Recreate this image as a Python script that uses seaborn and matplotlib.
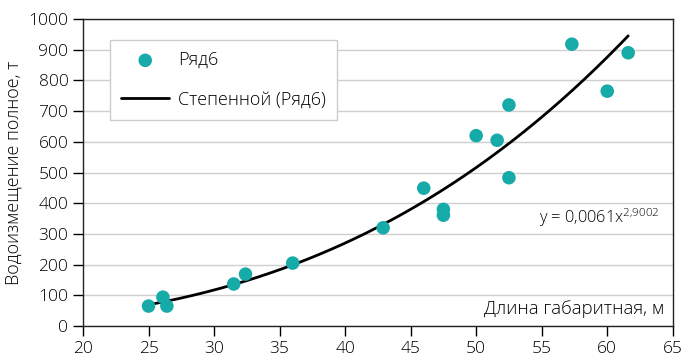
import numpy as np
import pandas as pd
import matplotlib
matplotlib.use("Agg")
import matplotlib.pyplot as plt
import seaborn as sns

# Data
length_m = [25.0, 26.1, 26.4, 31.5, 32.4, 36.0, 42.9, 46.0, 47.5, 47.5,
            50.0, 51.6, 52.5, 52.5, 57.3, 60.0, 61.6]
displacement_t = [65, 94, 65, 137, 169, 205, 320, 449, 380, 361,
                  620, 605, 720, 483, 918, 765, 890]
series_name = "Ряд6"
trend_name = "Степенной (Ряд6)"
trend_a = 0.0061
trend_b = 2.9002
x_ticks = [20, 25, 30, 35, 40, 45, 50, 55, 60, 65]
y_ticks = [0, 100, 200, 300, 400, 500, 600, 700, 800, 900, 1000]

sns.set_theme(style="white")
plt.rcParams['font.family'] = ['Open Sans', 'DejaVu Sans']
plt.rcParams['font.weight'] = 'light'
plt.rcParams['mathtext.fontset'] = 'custom'
plt.rcParams['mathtext.rm'] = 'Open Sans:light'

df = pd.DataFrame({"x": length_m, "y": displacement_t})
xt = np.linspace(min(length_m), max(length_m), 200)
trend = pd.DataFrame({"x": xt, "y": trend_a * xt ** trend_b})

fig = plt.figure(figsize=(6.83, 3.62), dpi=100)
ax = fig.add_axes([0.1215, 0.0994, 0.8635, 0.8481])

teal = "#16AAA8"
txt = "#000000"
sns.lineplot(data=trend, x="x", y="y", ax=ax, color="black", linewidth=2.0,
             label=trend_name, zorder=3)
sns.scatterplot(data=df, x="x", y="y", ax=ax, color=teal, s=95,
                edgecolor="none", label=series_name, zorder=4)

ax.set_xlim(20, 65)
ax.set_ylim(0, 1000)
ax.set_xticks(x_ticks)
ax.set_yticks(y_ticks)
ax.tick_params(axis="both", which="both", direction="out", length=7.5, width=1,
               color="black", labelsize=12.5, labelcolor=txt, pad=3,
               left=True, bottom=True)
for lbl in ax.get_xticklabels() + ax.get_yticklabels():
    lbl.set_fontweight("light")
ax.yaxis.grid(True, color="#cfcfcf", linewidth=1)
ax.xaxis.grid(False)
for s in ax.spines.values():
    s.set_color("#222222")
    s.set_linewidth(1.0)

ax.set_xlabel("")
ax.set_ylabel("Водоизмещение полное, т", fontsize=13, color=txt,
              labelpad=4, fontweight="light")

ax.text(0.985, 0.025, "Длина габаритная, м", transform=ax.transAxes,
        ha="right", va="bottom", fontsize=13.3, color=txt, fontweight="light")
ax.text(0.978, 0.352, r"y = 0,0061x$^{\mathregular{2{,}9002}}$", transform=ax.transAxes,
        ha="right", va="center", fontsize=11.8, color=txt, fontweight="light")

handles, labels = ax.get_legend_handles_labels()
order = [labels.index(series_name), labels.index(trend_name)]
leg = ax.legend([handles[i] for i in order], [labels[i] for i in order],
                loc="upper left", bbox_to_anchor=(0.046, 0.932),
                frameon=True, fancybox=False, framealpha=1,
                edgecolor="#cccccc", fontsize=13, handlelength=2.65,
                handletextpad=0.5, labelspacing=1.2, borderpad=0.62,
                borderaxespad=0)
leg.get_frame().set_linewidth(1.0)
for t in leg.get_texts():
    t.set_fontweight("light")
    t.set_color(txt)

fig.savefig("out.png", dpi=100)
